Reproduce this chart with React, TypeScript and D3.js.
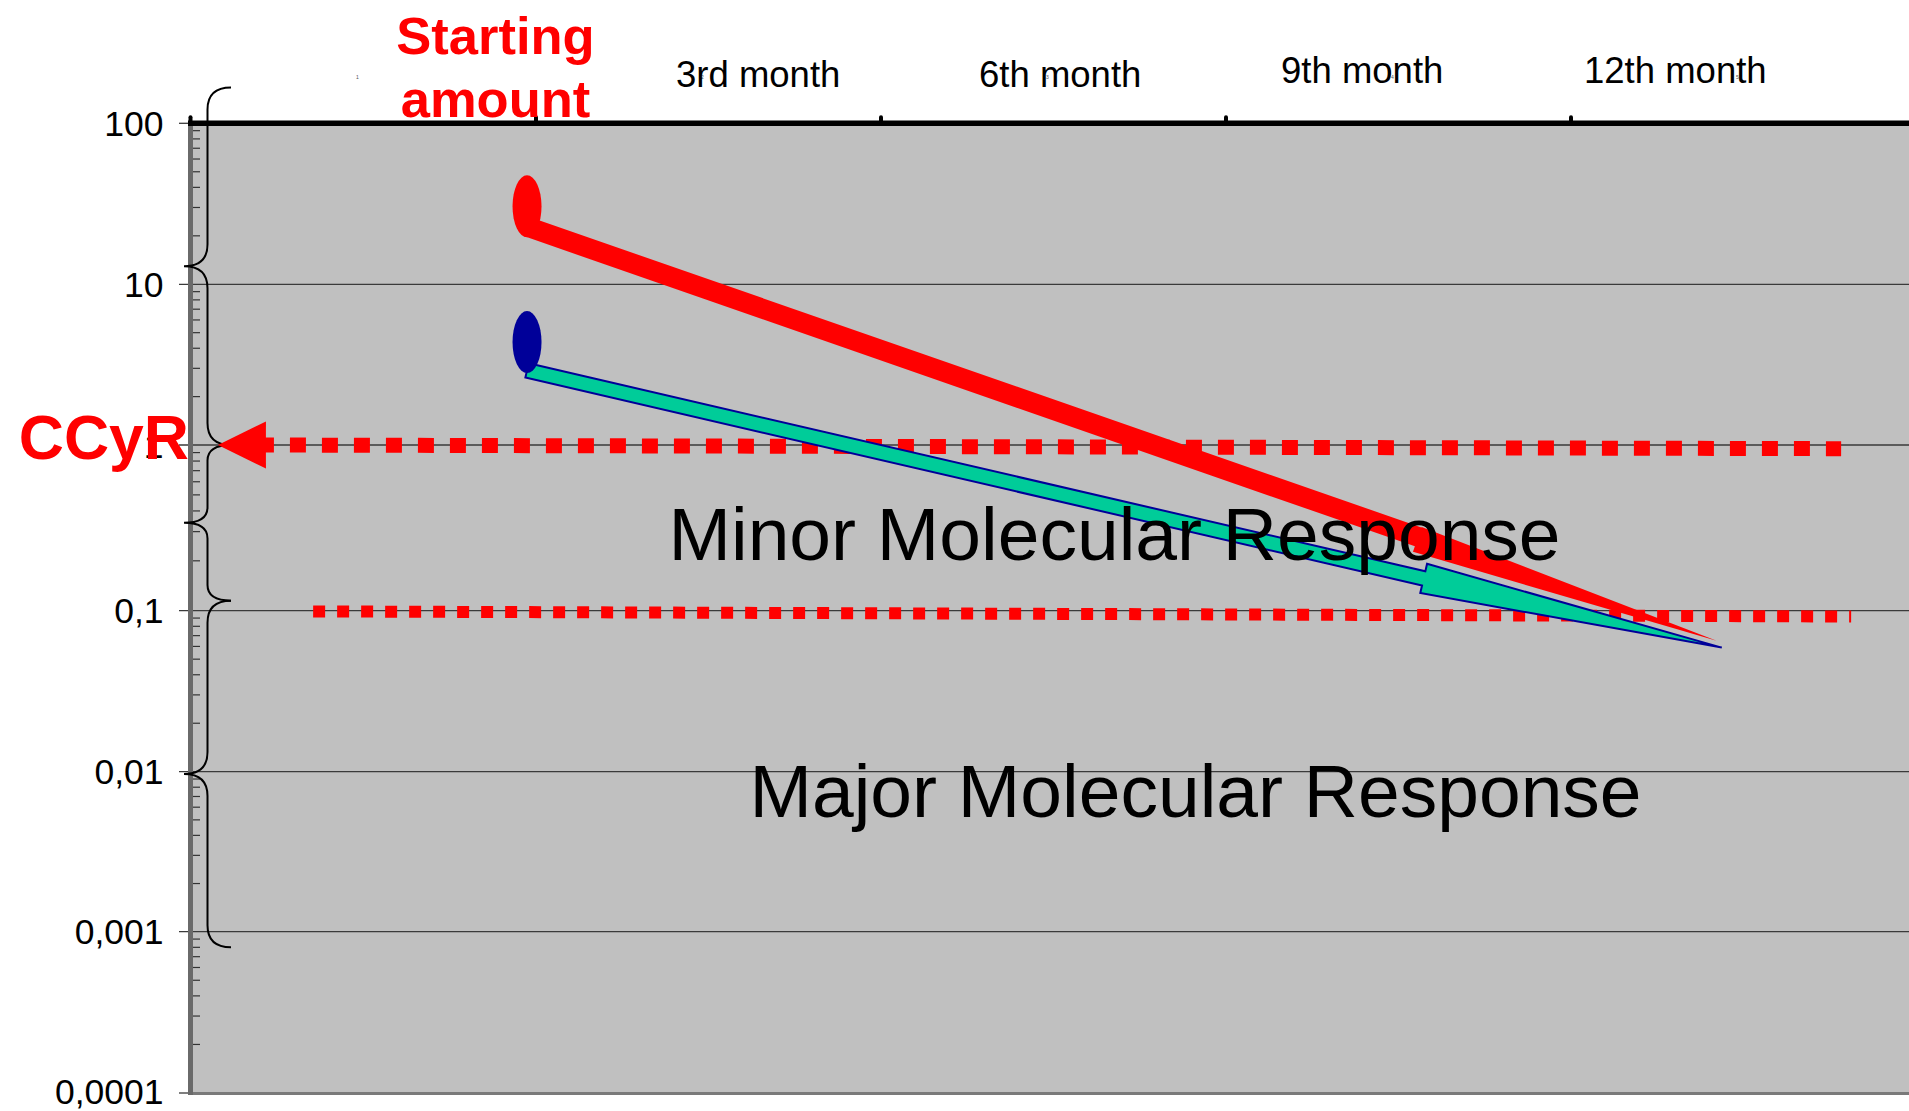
import React from 'react';
import * as d3 from 'd3';

// ---------- data ----------
const categories = ['1', '2', '3', '4', '5'];
const monthLabels = ['3rd month', '6th month', '9th month', '12th month'];
const yTickValues = [100, 10, 1, 0.1, 0.01, 0.001, 0.0001];
const yTickLabels = ['100', '10', '1', '0,1', '0,01', '0,001', '0,0001'];

// arrows (x in category units, y as values): [red, blue/green]
const arrowStartX = [0.974, 0.974];
const arrowEndX = [4.422, 4.437];
const arrowStartValues = [22.8, 2.91];
const arrowEndValues = [0.065, 0.059];
const markerValues = [30.5, 4.37];

// response thresholds (dotted lines)
const thresholdStartValues = [1, 0.099];
const thresholdEndValues = [0.95, 0.092];
const thresholdStartX = [0.194, 0.354];
const thresholdEndX = [4.783, 4.812];
const ccyrArrowTipX = 0.078;

// bracket ranges on the left (values)
const braceTops = [167, 1, 0.115];
const braceBottoms = [1, 0.115, 0.0008];

// ---------- layout / style ----------
const W = 1909;
const H = 1111;
const FONT = "'Liberation Sans', Arial, Helvetica, sans-serif";
const RED = '#FF0000';
const GREEN = '#00CC99';
const NAVY = '#000099';
const PLOT_BG = '#C0C0C0';
const AXIS_X = 190.5;
const PLOT_RIGHT = W;
const monthLabelLayout = [
  { x: 676, y: 87.3 },
  { x: 979, y: 87.3 },
  { x: 1281, y: 82.7 },
  { x: 1584, y: 82.7 },
];

const x = d3.scaleLinear().domain([0, 5]).range([191, 1916]);
const band = d3.scaleBand<string>().domain(categories).range([191, 1916]);
const y = d3
  .scaleLog()
  .domain(yTickValues)
  .range([123.3, 284.3, 445, 610.7, 771.7, 931.7, 1093]);

const minorTicks: number[] = [];
for (let k = -4; k <= 1; k++) {
  for (let m = 2; m <= 9; m++) minorTicks.push(m * Math.pow(10, k));
}

function arrowPoints(
  S: [number, number],
  T: [number, number],
  shaftHalf: number,
  headLen: number,
  headTop: number,
  headBottom: number
) {
  const dx = T[0] - S[0];
  const dy = T[1] - S[1];
  const L = Math.hypot(dx, dy);
  const ux = dx / L;
  const uy = dy / L;
  const nx = -uy;
  const ny = ux;
  const pt = (u: number, v: number): [number, number] => [S[0] + ux * u + nx * v, S[1] + uy * u + ny * v];
  const b = L - headLen;
  const pts = [
    pt(0, -shaftHalf),
    pt(b, -shaftHalf),
    pt(b, -headTop),
    pt(L, 0),
    pt(b, headBottom),
    pt(b, shaftHalf),
    pt(0, shaftHalf),
  ];
  return d3.line()(pts) + 'Z';
}

function bracePath(yTop: number, yBot: number) {
  const xs = 207.5;
  const xe = 231;
  const xt = 184;
  const r = Math.min(22, (yBot - yTop) / 10);
  const ym = (yTop + yBot) / 2;
  const p = d3.path();
  p.moveTo(xe, yTop);
  p.quadraticCurveTo(xs, yTop, xs, yTop + r);
  p.lineTo(xs, ym - r);
  p.quadraticCurveTo(xs, ym, xt, ym);
  p.quadraticCurveTo(xs, ym, xs, ym + r);
  p.lineTo(xs, yBot - r);
  p.quadraticCurveTo(xs, yBot, xe, yBot);
  return p.toString();
}

export default function App() {
  const starts = arrowStartX.map((v, i) => [x(v), y(arrowStartValues[i])] as [number, number]);
  const ends = arrowEndX.map((v, i) => [x(v), y(arrowEndValues[i])] as [number, number]);
  const redPath = arrowPoints(starts[0], ends[0], 10, 316, 10.6, 15.8);
  const greenPath = arrowPoints(starts[1], ends[1], 7.3, 306, 15, 15);
  const yOne = y(1);

  return (
    <svg
      width={W}
      height={H}
      viewBox={`0 0 ${W} ${H}`}
      style={{ position: 'absolute', left: 0, top: 0, display: 'block', background: '#fff' }}
    >
      {/* plot background */}
      <rect x={AXIS_X} y={y(100)} width={PLOT_RIGHT - AXIS_X} height={y(0.0001) - y(100) + 2} fill={PLOT_BG} />

      {/* gridlines + major ticks */}
      {yTickValues.slice(1, -1).map((v) => (
        <line key={'g' + v} x1={179} x2={PLOT_RIGHT} y1={y(v)} y2={y(v)} stroke="#3a3a3a" strokeWidth={1.3} />
      ))}
      <line x1={179} x2={200} y1={y(0.0001)} y2={y(0.0001)} stroke="#3a3a3a" strokeWidth={1.3} />
      <line x1={179} x2={200} y1={y(100)} y2={y(100)} stroke="#3a3a3a" strokeWidth={1.3} />

      {/* minor ticks */}
      {minorTicks.map((v) => (
        <line key={'m' + v} x1={188} x2={200} y1={y(v)} y2={y(v)} stroke="#333" strokeWidth={1.2} />
      ))}

      {/* bottom border and left axis */}
      <line x1={AXIS_X} x2={PLOT_RIGHT} y1={y(0.0001) + 0.5} y2={y(0.0001) + 0.5} stroke="#7a7a7a" strokeWidth={3} />
      <line x1={AXIS_X} x2={AXIS_X} y1={y(100)} y2={y(0.0001) + 2} stroke="#6a6a6a" strokeWidth={5} />

      {/* top border with category ticks */}
      <line x1={188} x2={PLOT_RIGHT} y1={y(100)} y2={y(100)} stroke="#000" strokeWidth={5.5} />
      {[AXIS_X, ...categories.slice(1).map((c) => band(c) as number)].map((tx, i) => (
        <line key={'t' + i} x1={tx} x2={tx} y1={y(100)} y2={y(100) - 6} stroke="#000" strokeWidth={4} strokeLinecap="round" />
      ))}
      {/* tiny category labels */}
      {categories.map((c) => (
        <text
          key={'c' + c}
          x={(band(c) as number) + band.bandwidth() / 2 - 6}
          y={79}
          fontFamily={FONT}
          fontSize={5}
          fill="#555"
          textAnchor="middle"
        >
          {c}
        </text>
      ))}

      {/* y tick labels */}
      {yTickValues.map((v, i) => (
        <text
          key={'l' + v}
          x={163.5}
          y={Math.min(y(v) + 12.5, 1103.5)}
          fontFamily={FONT}
          fontSize={35.5}
          textAnchor="end"
          fill="#000"
        >
          {yTickLabels[i]}
        </text>
      ))}

      {/* braces */}
      {braceTops.map((t, i) => (
        <path key={'b' + i} d={bracePath(y(t), y(braceBottoms[i]))} fill="none" stroke="#000" strokeWidth={2} />
      ))}

      {/* threshold dotted lines */}
      <line
        x1={x(thresholdStartX[0])}
        x2={x(thresholdEndX[0])}
        y1={y(thresholdStartValues[0])}
        y2={y(thresholdEndValues[0])}
        stroke={RED}
        strokeWidth={15}
        strokeDasharray="16 16"
      />
      <line
        x1={x(thresholdStartX[1])}
        x2={x(thresholdEndX[1])}
        y1={y(thresholdStartValues[1])}
        y2={y(thresholdEndValues[1])}
        stroke={RED}
        strokeWidth={12}
        strokeDasharray="12 12"
      />
      {/* CCyR arrow head */}
      <path
        d={
          d3.line()([
            [x(ccyrArrowTipX), yOne],
            [x(ccyrArrowTipX) + 48, yOne - 23.5],
            [x(ccyrArrowTipX) + 48, yOne + 23.5],
          ]) + 'Z'
        }
        fill={RED}
      />

      {/* response arrows */}
      <path d={redPath} fill={RED} />
      <path d={greenPath} fill={GREEN} stroke={NAVY} strokeWidth={2} strokeLinejoin="miter" />
      <ellipse cx={x(arrowStartX[0])} cy={y(markerValues[0])} rx={14.5} ry={31} fill={RED} />
      <ellipse cx={x(arrowStartX[1])} cy={y(markerValues[1])} rx={14.5} ry={31} fill={NAVY} />

      {/* region labels */}
      <text x={668.5} y={560} fontFamily={FONT} fontSize={75} fill="#000">
        Minor Molecular Response
      </text>
      <text x={749.5} y={816.7} fontFamily={FONT} fontSize={75} fill="#000">
        Major Molecular Response
      </text>

      {/* top labels */}
      <text x={495.5} y={53.5} fontFamily={FONT} fontSize={52.5} fontWeight="bold" fill={RED} textAnchor="middle">
        Starting
      </text>
      <text x={495.5} y={116.7} fontFamily={FONT} fontSize={52.5} fontWeight="bold" fill={RED} textAnchor="middle">
        amount
      </text>
      {monthLabels.map((m, i) => (
        <text key={m} x={monthLabelLayout[i].x} y={monthLabelLayout[i].y} fontFamily={FONT} fontSize={36.5} fill="#000">
          {m}
        </text>
      ))}

      {/* CCyR label */}
      <text x={189} y={459.3} fontFamily={FONT} fontSize={62.5} fontWeight="bold" fill={RED} textAnchor="end">
        CCyR
      </text>
    </svg>
  );
}
